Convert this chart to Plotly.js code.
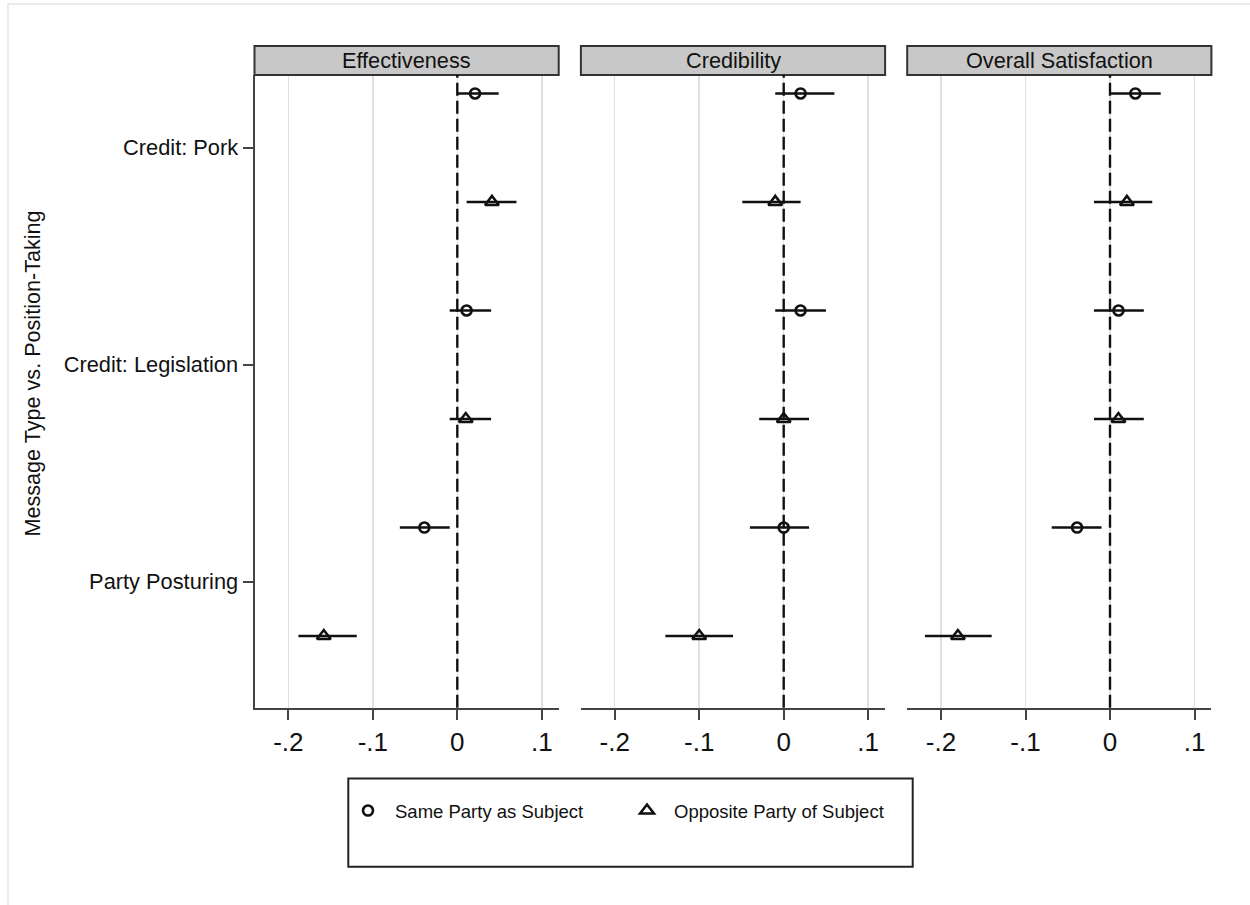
<!DOCTYPE html>
<html>
<head>
<meta charset="utf-8">
<script src="https://cdn.plot.ly/plotly-3.0.1.min.js"></script>
<style>html,body{margin:0;padding:0;background:#fff;}#chart{width:1250px;height:905px;}</style>
</head>
<body>
<div id="chart"></div>
<script>
// ---- data ----
var categories = ['Credit: Pork', 'Credit: Legislation', 'Party Posturing'];
var panels = ['Effectiveness', 'Credibility', 'Overall Satisfaction'];
var seriesNames = ['Same Party as Subject', 'Opposite Party of Subject'];
var xTickVals = [-0.2, -0.1, 0, 0.1];
var xTickText = ['-.2', '-.1', '0', '.1'];

// Effectiveness
var effSameEst = [0.021, 0.011, -0.039];
var effSameLo  = [0.000, -0.009, -0.068];
var effSameHi  = [0.049, 0.040, -0.009];
var effOppEst  = [0.041, 0.010, -0.158];
var effOppLo   = [0.011, -0.009, -0.188];
var effOppHi   = [0.070, 0.040, -0.119];
// Credibility
var credSameEst = [0.020, 0.020, 0.000];
var credSameLo  = [-0.010, -0.010, -0.040];
var credSameHi  = [0.060, 0.050, 0.030];
var credOppEst  = [-0.010, 0.000, -0.100];
var credOppLo   = [-0.049, -0.029, -0.140];
var credOppHi   = [0.020, 0.030, -0.060];
// Overall Satisfaction
var satSameEst = [0.030, 0.010, -0.039];
var satSameLo  = [-0.001, -0.019, -0.069];
var satSameHi  = [0.060, 0.040, -0.010];
var satOppEst  = [0.020, 0.010, -0.180];
var satOppLo   = [-0.019, -0.019, -0.219];
var satOppHi   = [0.050, 0.040, -0.140];

// ---- build ----
var W = 1250, H = 905;
function px(x){ return x / W; }
function py(y){ return 1 - y / H; }
var FONT = 'Liberation Sans, Arial, sans-serif';

var panelData = [
  {same: [effSameEst, effSameLo, effSameHi], opp: [effOppEst, effOppLo, effOppHi]},
  {same: [credSameEst, credSameLo, credSameHi], opp: [credOppEst, credOppLo, credOppHi]},
  {same: [satSameEst, satSameLo, satSameHi], opp: [satOppEst, satOppLo, satOppHi]}
];
var axisIds = ['x', 'x2', 'x3'];

function mkTrace(arr, offset, pi, si) {
  var est = arr[0], lo = arr[1], hi = arr[2];
  var ys = categories.map(function(c, i){ return 2 * i + 1 + offset; });
  return {
    type: 'scatter', mode: 'markers',
    x: est, y: ys,
    xaxis: axisIds[pi], yaxis: 'y',
    name: seriesNames[si],
    showlegend: pi === 0,
    legendgroup: seriesNames[si],
    marker: {
      symbol: si === 0 ? 'circle-open' : 'triangle-up-open',
      size: si === 0 ? 10 : 12,
      color: '#111',
      line: {color: '#111', width: 2.6}
    },
    error_x: {
      type: 'data', symmetric: false,
      array: est.map(function(v, i){ return hi[i] - v; }),
      arrayminus: est.map(function(v, i){ return v - lo[i]; }),
      width: 0, thickness: 2.5, color: '#111'
    },
    hoverinfo: 'x+y'
  };
}

var traces = [];
panelData.forEach(function(p, pi){
  traces.push(mkTrace(p.same, 0, pi, 0));
  traces.push(mkTrace(p.opp, 1, pi, 1));
});

var domains = [[px(254.5), px(558.7)], [px(580.9), px(885.1)], [px(907.2), px(1211.4)]];
var yDom = [py(707.7), py(75)];

function xAxis(d) {
  return {
    domain: d, anchor: 'y', range: [-0.24, 0.12],
    tickmode: 'array', tickvals: xTickVals, ticktext: xTickText,
    showgrid: true, gridcolor: '#e0e0e0', gridwidth: 1.5,
    zeroline: false,
    showline: true, linecolor: '#444', linewidth: 2,
    ticks: 'outside', ticklen: 10, tickwidth: 2, tickcolor: '#444',
    tickfont: {family: FONT, size: 26, color: '#111'},
    fixedrange: true
  };
}

var shapes = [];
var annotations = [];
panels.forEach(function(name, pi){
  var ref = axisIds[pi] + ' domain';
  shapes.push({type: 'rect', xref: ref, yref: 'paper', x0: 0, x1: 1, y0: py(75), y1: py(46),
    fillcolor: '#c8c8c8', line: {color: '#333', width: 2}});
  shapes.push({type: 'line', xref: axisIds[pi], yref: 'y domain', x0: 0, x1: 0, y0: 0, y1: 1,
    line: {color: '#111', width: 2.4, dash: '13px,5px'}, layer: 'above'});
  annotations.push({xref: ref, yref: 'paper', x: 0.5, y: py(60.5), text: name, showarrow: false,
    xanchor: 'center', yanchor: 'middle', font: {family: FONT, size: 21.7, color: '#111'}});
});
// legend box
shapes.push({type: 'rect', xref: 'paper', yref: 'paper', x0: px(348.3), x1: px(912.7), y0: py(866.7), y1: py(778.5),
  line: {color: '#222', width: 2}, fillcolor: 'rgba(0,0,0,0)'});
// faint outer frame
shapes.push({type: 'line', xref: 'paper', yref: 'paper', x0: px(8), x1: px(8), y0: py(4), y1: 0,
  line: {color: '#e6ecef', width: 2}});
shapes.push({type: 'line', xref: 'paper', yref: 'paper', x0: px(8), x1: 1, y0: py(4), y1: py(4),
  line: {color: '#e6ecef', width: 2}});

annotations.push({xref: 'paper', yref: 'paper', x: px(32), y: py(373.5), text: 'Message Type vs. Position-Taking',
  textangle: -90, showarrow: false, xanchor: 'center', yanchor: 'middle',
  font: {family: FONT, size: 21.6, color: '#111'}});

var layout = {
  width: W, height: H,
  margin: {l: 0, r: 0, t: 0, b: 0},
  paper_bgcolor: '#fff', plot_bgcolor: '#fff',
  font: {family: FONT, color: '#111'},
  showlegend: true,
  legend: {
    orientation: 'h', x: px(341), y: py(792), xanchor: 'left', yanchor: 'top',
    bgcolor: 'rgba(0,0,0,0)', borderwidth: 0,
    font: {family: FONT, size: 18.5, color: '#111'},
    itemwidth: 44,
    entrywidth: 220, itemclick: false, itemdoubleclick: false
  },
  xaxis: xAxis(domains[0]),
  xaxis2: xAxis(domains[1]),
  xaxis3: xAxis(domains[2]),
  yaxis: {
    domain: yDom, anchor: 'x', range: [6.66, 0.83],
    tickmode: 'array', tickvals: [1.5, 3.5, 5.5], ticktext: categories,
    showgrid: false, zeroline: false,
    showline: true, linecolor: '#444', linewidth: 2,
    ticks: 'outside', ticklen: 10, tickwidth: 2, tickcolor: '#444',
    tickfont: {family: FONT, size: 21.8, color: '#111'},
    fixedrange: true
  },
  shapes: shapes,
  annotations: annotations
};

Plotly.newPlot('chart', traces, layout, {staticPlot: true, displayModeBar: false});
</script>
</body>
</html>
